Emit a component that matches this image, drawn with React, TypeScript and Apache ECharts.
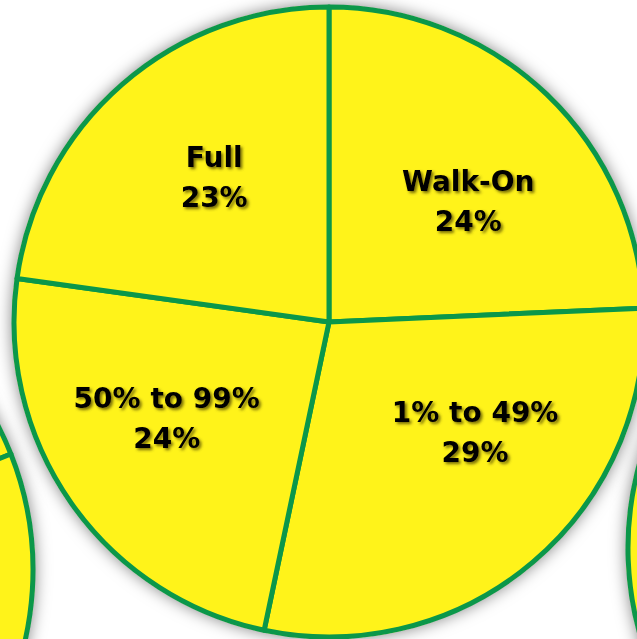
import React, { useEffect, useRef } from "react";
import * as echarts from "echarts";

const categories = ["Walk-On", "1% to 49%", "50% to 99%", "Full"];
const shares = [24.3, 29.0, 23.9, 22.8];
const leftPieValues = [19, 30, 26, 25];
const rightPieValues = [100];
// small per-label nudges (px) to match the reference's label placement
const labelNudgeX = [13, 28, -13, 5];
const labelNudgeY = [11, -29, -8, -7];

const YELLOW = "#fff31a";
const GREEN = "#0b974a";

export default function App() {
  const ref = useRef<HTMLDivElement>(null);
  useEffect(() => {
    if (!ref.current) return;
    const chart = echarts.init(ref.current, undefined, { renderer: "svg" });
    const mainData = categories.map((c, i) => ({ name: c, value: shares[i] }));
    const sliceStyle = { color: YELLOW, borderColor: GREEN, borderWidth: 5 };
    const shadowPie = (center: [number, number]) => ({
      type: "pie",
      center,
      radius: 317,
      silent: true,
      z: 1,
      startAngle: 90,
      label: { show: false },
      labelLine: { show: false },
      itemStyle: {
        color: YELLOW,
        borderWidth: 0,
        shadowBlur: 16,
        shadowColor: "rgba(0,0,0,0.5)",
      },
      data: [{ name: "bg", value: 1 }],
    });
    chart.setOption({
      animation: false,
      backgroundColor: "#ffffff",
      series: [
        shadowPie([-282, 570]),
        shadowPie([943, 548]),
        shadowPie([329, 322]),
        {
          type: "pie",
          center: [-282, 570],
          radius: 315,
          startAngle: 90,
          silent: true,
          z: 2,
          label: { show: false },
          labelLine: { show: false },
          itemStyle: sliceStyle,
          data: leftPieValues.map((v, i) => ({ name: "l" + i, value: v })),
        },
        {
          type: "pie",
          center: [943, 548],
          radius: 315,
          startAngle: 90,
          silent: true,
          z: 2,
          label: { show: false },
          labelLine: { show: false },
          itemStyle: sliceStyle,
          data: rightPieValues.map((v, i) => ({ name: "r" + i, value: v })),
        },
        {
          type: "pie",
          center: [329, 322],
          radius: 315,
          startAngle: 90,
          clockwise: true,
          silent: true,
          z: 2,
          label: { show: false },
          labelLine: { show: false },
          itemStyle: sliceStyle,
          data: mainData,
        },
        {
          type: "pie",
          center: [329, 322],
          radius: 359,
          startAngle: 90,
          clockwise: true,
          silent: true,
          z: 3,
          percentPrecision: 0,
          itemStyle: { color: "rgba(0,0,0,0)", borderWidth: 0 },
          labelLine: { show: false },
          labelLayout: (p: any) => ({
            dx: labelNudgeX[p.dataIndex],
            dy: labelNudgeY[p.dataIndex],
          }),
          label: {
            show: true,
            position: "inside",
            formatter: "{b}\n{d}%",
            color: "#000000",
            fontFamily: "DejaVu Sans",
            fontWeight: "bold",
            fontSize: 28,
            lineHeight: 40,
            textBorderWidth: 0,
            textShadowColor: "rgba(70,60,0,0.75)",
            textShadowBlur: 3,
            textShadowOffsetX: 2,
            textShadowOffsetY: 2,
          },
          data: mainData,
        },
      ],
    });
    return () => chart.dispose();
  }, []);
  return (
    <div
      ref={ref}
      style={{ position: "absolute", left: 0, top: 0, width: 637, height: 639 }}
    />
  );
}
